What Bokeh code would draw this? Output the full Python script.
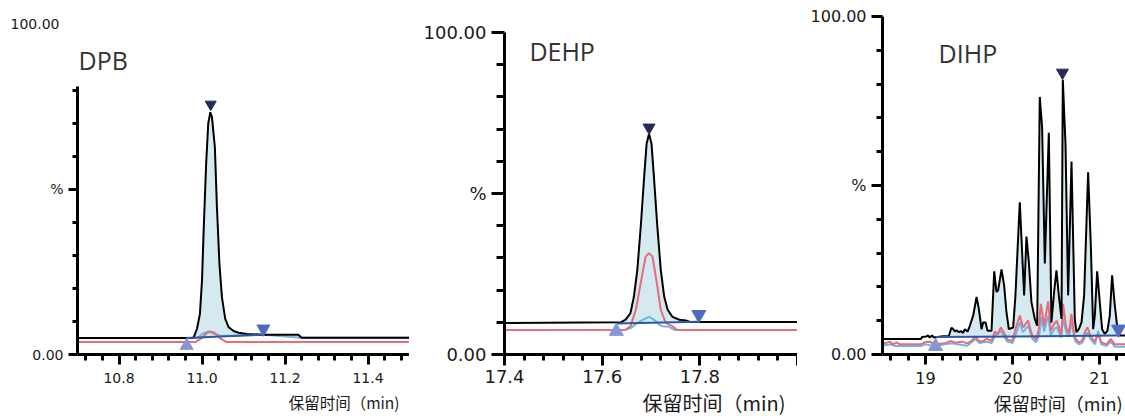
import numpy as np
from bokeh.plotting import figure
from bokeh.layouts import row
from bokeh.models import Range1d, FixedTicker, Label, Title, LinearAxis
from bokeh.embed import file_html
from bokeh.resources import INLINE

# ---------------- data ----------------
titles = ["DPB", "DEHP", "DIHP"]
x_title = "保留时间（min)"
y_tick_labels = {0: "0.00", 50: "%", 100: "100.00"}

# DPB
dpb_time = [10.70, 10.975, 10.980, 10.988, 10.995, 11.000, 11.004, 11.010, 11.015, 11.020, 11.024,
            11.031, 11.036, 11.042, 11.048, 11.056, 11.064, 11.076, 11.088, 11.108, 11.150, 11.232,
            11.240, 11.50]
dpb_black = [5.0, 5.0, 5.2, 7.8, 12.3, 22.4, 37.6, 57.8, 69.9, 73.4, 71.9,
             62.8, 44.6, 27.5, 17.4, 10.8, 8.3, 7.1, 6.6, 6.2, 6.0, 6.0,
             5.1, 5.1]
dpb_red_time = [10.70, 10.985, 11.000, 11.012, 11.020, 11.030, 11.045, 11.058, 11.50]
dpb_red = [3.8, 3.8, 5.0, 6.6, 7.0, 6.6, 4.8, 3.8, 3.8]
dpb_blue_time = [10.70, 10.99, 11.0, 11.015, 11.03, 11.045, 11.15, 11.24, 11.50]
dpb_blue = [5.0, 5.0, 6.2, 7.0, 6.3, 5.6, 6.0, 5.1, 5.1]
dpb_base = [(10.962, 5.0), (11.147, 6.0)]
dpb_apex = (11.021, 75.8)
dpb_start = (10.963, 2.7)
dpb_end = (11.148, 7.8)

# DEHP
dehp_time = [17.40, 17.638, 17.648, 17.658, 17.665, 17.672, 17.679, 17.686, 17.691, 17.696, 17.701,
             17.706, 17.713, 17.720, 17.727, 17.734, 17.744, 17.758, 17.771, 17.780, 18.00]
dehp_black = [9.8, 10.0, 10.8, 12.9, 18.0, 26.3, 39.7, 55.2, 65.5, 68.6, 65.5,
              55.2, 39.7, 26.3, 18.0, 13.9, 11.7, 10.8, 10.6, 10.1, 10.1]
dehp_red_time = [17.40, 17.648, 17.658, 17.669, 17.679, 17.689, 17.696, 17.703, 17.712, 17.720,
                 17.730, 17.744, 17.754, 18.00]
dehp_red = [7.6, 7.7, 8.8, 13.9, 22.2, 30.4, 31.5, 30.4, 22.2, 13.9, 9.8, 8.8, 7.6, 7.6]
dehp_blue_time = [17.40, 17.648, 17.658, 17.672, 17.686, 17.696, 17.706, 17.717, 17.723, 17.737,
                  17.747, 18.00]
dehp_blue = [7.6, 7.7, 8.2, 9.8, 11.0, 11.7, 10.8, 9.3, 8.8, 8.6, 7.7, 7.6]
dehp_base = [(17.629, 9.6), (17.798, 10.2)]
dehp_apex = (17.696, 70.5)
dehp_start = (17.629, 7.2)
dehp_end = (17.798, 12.4)

# DIHP
dihp_time = [18.505, 18.946, 18.961, 19.010, 19.029, 19.048, 19.075, 19.098, 19.202, 19.267, 19.298,
             19.318, 19.337, 19.356, 19.383, 19.406, 19.433, 19.452, 19.483, 19.510, 19.548, 19.587,
             19.613, 19.644, 19.663, 19.690, 19.713, 19.759, 19.790, 19.816, 19.835, 19.874, 19.904,
             19.931, 19.958, 20.008, 20.034, 20.084, 20.134, 20.161, 20.188, 20.218, 20.257, 20.284,
             20.314, 20.341, 20.372, 20.418, 20.448, 20.479, 20.506, 20.533, 20.564, 20.579, 20.610,
             20.640, 20.679, 20.717, 20.736, 20.763, 20.794, 20.824, 20.870, 20.901, 20.928, 20.947,
             20.974, 21.004, 21.031, 21.062, 21.092, 21.119, 21.146, 21.177, 21.208, 21.234, 21.300]
dihp_black = [4.6, 4.6, 5.2, 5.3, 5.7, 5.0, 5.6, 5.0, 5.4, 5.4, 7.9,
              7.5, 6.8, 7.2, 6.6, 6.9, 6.4, 7.5, 6.8, 8.5, 11.5, 17.0,
              13.5, 7.5, 9.5, 9.5, 7.0, 7.0, 24.6, 18.5, 19.0, 25.2, 20.4,
              12.5, 7.5, 8.0, 17.5, 45.0, 17.5, 34.9, 27.4, 15.5, 10.5, 8.5,
              76.2, 67.1, 26.9, 65.6, 9.5, 18.5, 24.9, 17.5, 10.5, 81.3, 62.1,
              17.5, 57.1, 10.5, 6.6, 7.5, 9.5, 17.5, 53.9, 32.4, 7.5, 11.5,
              24.6, 15.5, 7.5, 6.1, 7.0, 11.5, 23.4, 14.5, 7.5, 5.6, 5.6]
dihp_red_time = [18.505, 18.590, 18.628, 18.667, 18.705, 18.946, 18.992, 19.050, 19.100, 19.222,
                 19.291, 19.345, 19.414, 19.483, 19.529, 19.575, 19.605, 19.651, 19.705, 19.759,
                 19.797, 19.828, 19.866, 19.904, 19.943, 19.996, 20.034, 20.084, 20.123, 20.180,
                 20.226, 20.272, 20.303, 20.326, 20.364, 20.410, 20.441, 20.479, 20.510, 20.540,
                 20.563, 20.582, 20.617, 20.648, 20.678, 20.716, 20.762, 20.801, 20.839, 20.862,
                 20.900, 20.946, 20.985, 21.023, 21.080, 21.130, 21.176, 21.300]
dihp_red = [3.1, 3.8, 3.0, 3.6, 3.0, 3.0, 3.6, 3.8, 3.0, 3.3,
            4.0, 3.5, 3.8, 3.3, 4.0, 5.4, 4.2, 3.8, 4.6, 4.0,
            6.8, 6.0, 8.0, 6.4, 4.4, 4.0, 7.5, 11.5, 8.0, 10.0,
            5.6, 4.4, 7.5, 15.0, 8.5, 15.7, 7.0, 9.0, 10.0, 7.5,
            6.0, 15.0, 8.0, 6.4, 12.0, 5.1, 3.6, 4.1, 7.0, 8.0,
            5.4, 3.8, 6.0, 3.6, 3.0, 4.6, 3.0, 3.0]
dihp_blue_time = [18.505, 18.600, 18.650, 18.946, 19.000, 19.100, 19.300, 19.420, 19.480, 19.575,
                  19.620, 19.700, 19.760, 19.800, 19.870, 19.940, 20.000, 20.040, 20.084, 20.120,
                  20.180, 20.230, 20.270, 20.310, 20.330, 20.365, 20.410, 20.440, 20.480, 20.510,
                  20.560, 20.580, 20.620, 20.650, 20.680, 20.720, 20.760, 20.800, 20.860, 20.900,
                  20.950, 20.985, 21.020, 21.080, 21.130, 21.180, 21.300]
dihp_blue = [2.6, 3.0, 2.5, 2.5, 3.0, 2.5, 3.3, 2.8, 2.6, 4.6,
             3.4, 3.8, 3.4, 5.6, 6.8, 3.8, 3.4, 6.0, 9.5, 6.6,
             8.5, 4.6, 3.6, 6.0, 11.0, 6.8, 11.5, 5.6, 7.5, 8.0,
             5.0, 10.5, 6.5, 5.2, 9.5, 4.0, 3.0, 3.4, 6.5, 4.5,
             3.0, 7.0, 3.0, 2.5, 3.8, 2.3, 2.3]
dihp_base = [(19.12, 5.15), (21.22, 5.6)]
dihp_apex = (20.575, 83.4)
dihp_start = (19.115, 2.4)
dihp_end = (21.22, 7.5)

# ---------------- style ----------------
BLACK = "#000000"
RED = "#ea6b79"
LBLUE = "#6db6e6"
BASE = "#2a58a6"
FILL = "#d4eaf0"
APEX = "#272b5c"
START = "#8797d3"
END = "#4e6cbf"
NUM_FONT = "DejaVu Sans"
TITLE_FONT = "Open Sans"
CJK_FONT = "Noto Sans CJK SC"


def panel(width, bl, ytop, ybound, ymajor, yminor, xr, xmajor, xminor, xover, cfg,
          traces, base, apex, start, end):
    p = figure(width=width, height=416, x_range=Range1d(*xr), y_range=Range1d(0, ytop),
               output_backend="svg", toolbar_location=None,
               min_border_left=bl, min_border_right=0, min_border_top=16, min_border_bottom=62)
    p.outline_line_color = None
    p.grid.visible = False

    xa = p.xaxis[0]
    xa.ticker = FixedTicker(ticks=xmajor, minor_ticks=xminor)
    xa.major_label_overrides = xover
    ya = p.yaxis[0]
    ya.ticker = FixedTicker(ticks=ymajor, minor_ticks=yminor)
    ya.major_label_overrides = y_tick_labels
    ya.bounds = (0, ybound)
    for ax, (mo, mi) in ((xa, cfg["xt"]), (ya, cfg["yt"])):
        ax.axis_line_width = 3
        ax.axis_line_color = "#000000"
        ax.major_tick_line_width = 3
        ax.minor_tick_line_width = 3
        ax.major_tick_out = mo
        ax.major_tick_in = 0
        ax.minor_tick_out = mi
        ax.minor_tick_in = 0
        ax.major_label_text_font = NUM_FONT
        ax.major_label_text_font_size = cfg["fs"]
        ax.major_label_text_color = "#1a1a1a"
    xa.major_label_standoff = cfg["xs"]
    ya.major_label_standoff = 5

    # integration fill
    (t0, y0), (t1, y1) = base
    bt_ = np.asarray(traces[0][0])
    by_ = np.asarray(traces[0][1])
    inside = (bt_ > t0) & (bt_ < t1)
    ft = np.concatenate([[t0], bt_[inside], [t1]])
    fy = np.interp(ft, bt_, by_)
    fb = np.interp(ft, [t0, t1], [y0, y1])
    p.varea(x=ft, y1=fb, y2=fy, fill_color=FILL, fill_alpha=1.0)

    (kt, ky), (rt, ry), (lt, ly) = traces
    p.line(lt, ly, line_color=LBLUE, line_width=2)
    p.line(rt, ry, line_color=RED, line_width=2)
    p.line(kt, ky, line_color=BLACK, line_width=2)
    p.line([t0, t1], [y0, y1], line_color=BASE, line_width=2)

    ms = cfg["ms"]
    p.scatter([apex[0]], [apex[1]], marker="inverted_triangle", size=ms, fill_color=APEX, line_color=APEX)
    p.scatter([start[0]], [start[1]], marker="triangle", size=ms + 2, fill_color=START, line_color=START)
    p.scatter([end[0]], [end[1]], marker="inverted_triangle", size=ms + 2, fill_color=END, line_color=END)

    p.add_layout(Title(text=x_title, align="right", offset=cfg["toff"], standoff=cfg["tst"],
                       text_font=CJK_FONT, text_font_size=cfg["tfs"], text_font_style="normal",
                       text_color="#1a1a1a"), "below")
    return p


Y_MAJOR = [0, 50, 100]
Y_MINOR = [10, 20, 30, 40, 60, 70, 80, 90]

# Panel 1: DPB (axis line cut short under the title, 100 label kept on its own axis)
p1 = panel(409, 77, 102.4, 81.2, [0, 50], [10, 20, 30, 40, 60, 70, 80],
           (10.70, 11.50), [10.8, 11.0, 11.2, 11.4],
           list(np.round(np.arange(10.72, 11.5, 0.04), 2)), {11.0: "11.0"},
           dict(xt=(10, 6), yt=(9, 5), fs="14px", xs=8, ms=11, toff=10, tst=6, tfs="15.5px"),
           [(dpb_time, dpb_black), (dpb_red_time, dpb_red), (dpb_blue_time, dpb_blue)],
           dpb_base, dpb_apex, dpb_start, dpb_end)
top_axis = LinearAxis(ticker=FixedTicker(ticks=[100], minor_ticks=[]),
                      major_label_overrides={100: "100.00"},
                      axis_line_color=None, major_tick_line_color=None, minor_tick_line_color=None,
                      major_tick_out=0, major_tick_in=0, major_label_standoff=-30,
                      major_label_text_font=NUM_FONT, major_label_text_font_size="14px",
                      major_label_text_color="#1a1a1a")
p1.add_layout(top_axis, "left")
p1.add_layout(Label(x=10.70, y=89.1, x_offset=1, text=titles[0], text_align="left",
                    text_baseline="middle", text_font=TITLE_FONT, text_font_size="25px",
                    text_color="#333333"))

# Panel 2: DEHP
p2 = panel(388, 95, 105.0, 100, Y_MAJOR, Y_MINOR, (17.40, 18.00), [17.4, 17.6, 17.8, 18.0],
           list(np.round(np.arange(17.44, 18.0, 0.04), 2)), {18.0: ""},
           dict(xt=(11, 6), yt=(13, 8), fs="18px", xs=4, ms=12, toff=12, tst=0, tfs="20px"),
           [(dehp_time, dehp_black), (dehp_red_time, dehp_red), (dehp_blue_time, dehp_blue)],
           dehp_base, dehp_apex, dehp_start, dehp_end)
p2.add_layout(Label(x=17.451, y=94.4, text=titles[1], text_align="left", text_baseline="middle",
                    text_font=TITLE_FONT, text_font_size="25px", text_color="#333333"))

# Panel 3: DIHP
p3 = panel(328, 85, 100.0, 100, Y_MAJOR, Y_MINOR, (18.505, 21.30), [19, 20, 21],
           list(np.round(np.arange(18.6, 21.3, 0.2), 1)), {},
           dict(xt=(10, 6), yt=(11, 6), fs="16px", xs=7, ms=12, toff=3, tst=2, tfs="18px"),
           [(dihp_time, dihp_black), (dihp_red_time, dihp_red), (dihp_blue_time, dihp_blue)],
           dihp_base, dihp_apex, dihp_start, dihp_end)
p3.add_layout(Label(x=19.15, y=89.3, text=titles[2], text_align="left", text_baseline="middle",
                    text_font=TITLE_FONT, text_font_size="25px", text_color="#333333"))

layout = row(p1, p2, p3)
open("out.html", "w").write(file_html(layout, INLINE))
